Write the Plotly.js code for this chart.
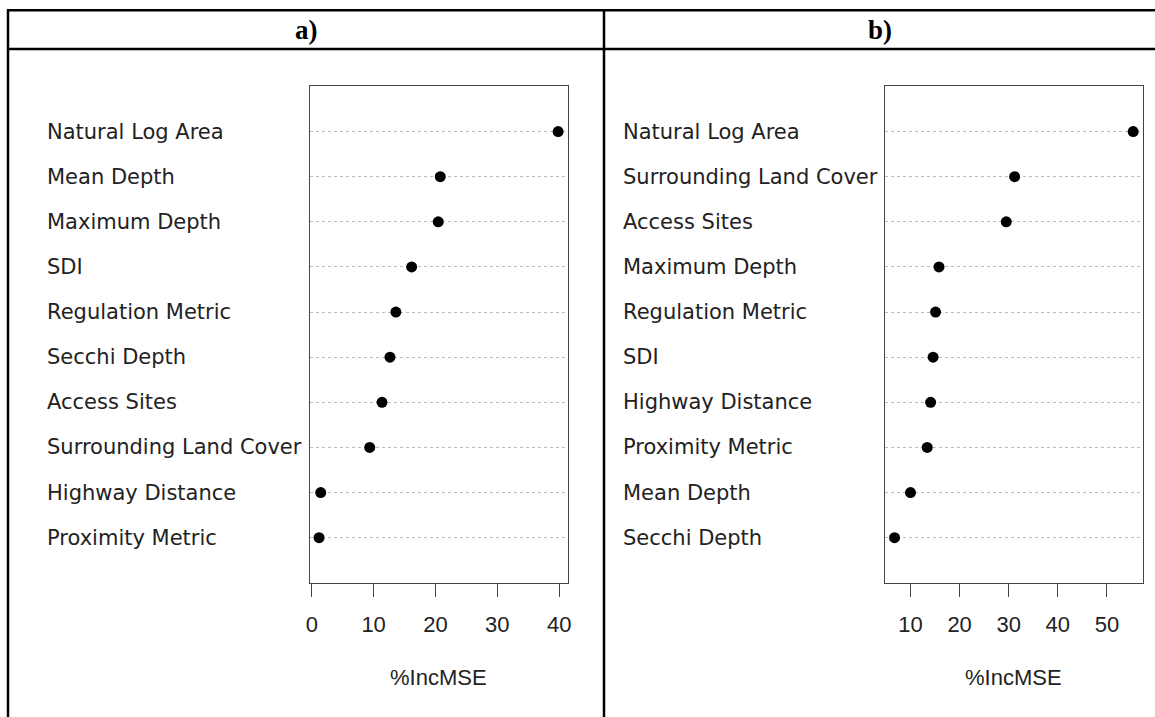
<!DOCTYPE html>
<html>
<head>
<meta charset="utf-8">
<script src="https://cdn.plot.ly/plotly-3.0.1.min.js"></script>
<style>html,body{margin:0;padding:0;background:#fff;}#chart{width:1155px;height:717px;}</style>
</head>
<body>
<div id="chart"></div>
<script>
// Panel a) variables (top to bottom) and %IncMSE values
var labelsA = ["Natural Log Area", "Mean Depth", "Maximum Depth", "SDI", "Regulation Metric",
  "Secchi Depth", "Access Sites", "Surrounding Land Cover", "Highway Distance", "Proximity Metric"];
var valuesA = [39.84, 20.78, 20.45, 16.15, 13.6, 12.65, 11.36, 9.37, 1.45, 1.18];
var ticksA = [0, 10, 20, 30, 40];

// Panel b) variables (top to bottom) and %IncMSE values
var labelsB = ["Natural Log Area", "Surrounding Land Cover", "Access Sites", "Maximum Depth",
  "Regulation Metric", "SDI", "Highway Distance", "Proximity Metric", "Mean Depth", "Secchi Depth"];
var valuesB = [55.34, 31.2, 29.5, 15.8, 15.1, 14.6, 14.1, 13.4, 10.0, 6.75];
var ticksB = [10, 20, 30, 40, 50];

var panelTitles = ["a)", "b)"];
var axisTitle = "%IncMSE";

var W = 1155, H = 717;
function px(x) { return x / W; }
function py(y) { return 1 - y / H; }

function rowPos(labels) { return labels.map(function (_, i) { return labels.length - i; }); }
function rRange(v) {
  var mn = Math.min.apply(null, v), mx = Math.max.apply(null, v), r = mx - mn;
  return [mn - 0.04 * r, mx + 0.04 * r];
}

var yA = rowPos(labelsA), yB = rowPos(labelsB);

var traces = [
  { x: valuesA, y: yA, type: "scatter", mode: "markers", xaxis: "x", yaxis: "y",
    marker: { color: "#000", size: 11 }, hoverinfo: "x+text", text: labelsA },
  { x: valuesB, y: yB, type: "scatter", mode: "markers", xaxis: "x2", yaxis: "y2",
    marker: { color: "#000", size: 11 }, hoverinfo: "x+text", text: labelsB }
];

var tickFont = { family: "Liberation Sans, Arial, sans-serif", size: 22, color: "#222" };
var labFont = { family: "DejaVu Sans, sans-serif", size: 21, color: "#222" };

function xAxis(dom, rng, tv, anchor) {
  return { domain: dom, range: rng, anchor: anchor, tickvals: tv, ticktext: tv.map(String),
    ticks: "outside", ticklen: 13, tickcolor: "#444", tickwidth: 1,
    showline: true, mirror: true, linecolor: "#444", linewidth: 1,
    showgrid: false, zeroline: false, tickfont: tickFont, ticklabelstandoff: 9, fixedrange: true };
}
function yAxis(dom, n, anchor) {
  var tv = []; for (var i = 1; i <= n; i++) tv.push(i);
  return { domain: dom, range: [0, n + 1], anchor: anchor, tickvals: tv, showticklabels: false,
    ticks: "", showline: true, mirror: true, linecolor: "#444", linewidth: 1,
    showgrid: true, gridcolor: "#bdbdbd", gridwidth: 1, griddash: "dot", zeroline: false, fixedrange: true };
}

var annotations = [];
labelsA.forEach(function (l, i) {
  annotations.push({ text: l, xref: "paper", yref: "y", x: px(45), y: yA[i], xanchor: "left",
    yanchor: "middle", showarrow: false, font: labFont });
});
labelsB.forEach(function (l, i) {
  annotations.push({ text: l, xref: "paper", yref: "y2", x: px(621), y: yB[i], xanchor: "left",
    yanchor: "middle", showarrow: false, font: labFont });
});
var titleFont = { family: "Liberation Sans, Arial, sans-serif", size: 22, color: "#222" };
annotations.push({ text: axisTitle, xref: "paper", yref: "paper", x: px(438.6), y: py(677),
  xanchor: "center", yanchor: "middle", showarrow: false, font: titleFont });
annotations.push({ text: axisTitle, xref: "paper", yref: "paper", x: px(1013.8), y: py(677),
  xanchor: "center", yanchor: "middle", showarrow: false, font: titleFont });
var headFont = { family: "Liberation Serif, Times New Roman, serif", size: 27, color: "#000" };
annotations.push({ text: "<b>" + panelTitles[0] + "</b>", xref: "paper", yref: "paper", x: px(306), y: py(30),
  xanchor: "center", yanchor: "middle", showarrow: false, font: headFont });
annotations.push({ text: "<b>" + panelTitles[1] + "</b>", xref: "paper", yref: "paper", x: px(880), y: py(30),
  xanchor: "center", yanchor: "middle", showarrow: false, font: headFont });

var lineStyle = { color: "#000", width: 2.5 };
var shapes = [
  { type: "line", xref: "paper", yref: "paper", x0: px(7), x1: 1, y0: py(10.3), y1: py(10.3), line: lineStyle },
  { type: "line", xref: "paper", yref: "paper", x0: px(7), x1: 1, y0: py(49), y1: py(49), line: lineStyle },
  { type: "line", xref: "paper", yref: "paper", x0: px(8), x1: px(8), y0: py(9.3), y1: 0, line: lineStyle },
  { type: "line", xref: "paper", yref: "paper", x0: px(604), x1: px(604), y0: py(9.3), y1: 0, line: lineStyle }
];

var yDom = [py(582.8), py(86.4)];
var layout = {
  width: W, height: H, margin: { l: 0, r: 0, t: 0, b: 0 },
  paper_bgcolor: "#fff", plot_bgcolor: "#fff", showlegend: false,
  xaxis: xAxis([px(309.5), px(567.7)], rRange(valuesA), ticksA, "y"),
  yaxis: yAxis(yDom, labelsA.length, "x"),
  xaxis2: xAxis([px(885), px(1142.7)], rRange(valuesB), ticksB, "y2"),
  yaxis2: yAxis(yDom, labelsB.length, "x2"),
  annotations: annotations, shapes: shapes
};

Plotly.newPlot("chart", traces, layout, { displayModeBar: false, staticPlot: true });
</script>
</body>
</html>
